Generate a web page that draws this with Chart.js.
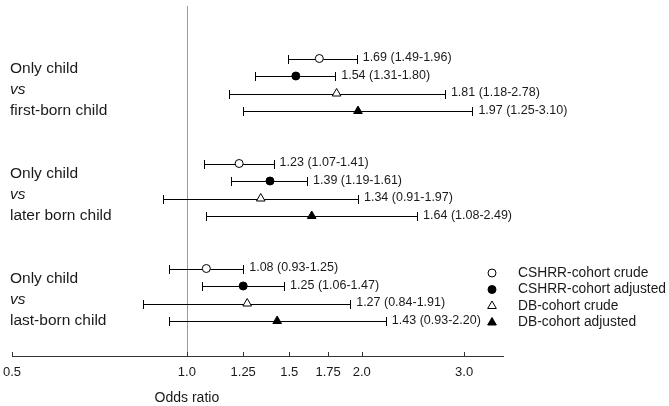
<!DOCTYPE html>
<html>
<head>
<meta charset="utf-8">
<script src="https://cdn.jsdelivr.net/npm/chart.js@4"></script>
<style>
  html, body { margin: 0; padding: 0; background: #fff; }
  canvas { display: block; }
</style>
</head>
<body>
<canvas id="chart" width="669" height="406"></canvas>
<script>
const groupLabels = [
    ["Only child", "vs", "first-born child"],
    ["Only child", "vs", "later born child"],
    ["Only child", "vs", "last-born child"]
];

const seriesNames = ["CSHRR-cohort crude", "CSHRR-cohort adjusted", "DB-cohort crude", "DB-cohort adjusted"];

// odds ratio with 95% CI, one value per comparison group
const cshrrCrude = [1.69, 1.23, 1.08];
const cshrrCrudeLow = [1.49, 1.07, 0.93];
const cshrrCrudeHigh = [1.96, 1.41, 1.25];

const cshrrAdj = [1.54, 1.39, 1.25];
const cshrrAdjLow = [1.31, 1.19, 1.06];
const cshrrAdjHigh = [1.80, 1.61, 1.47];

const dbCrude = [1.81, 1.34, 1.27];
const dbCrudeLow = [1.18, 0.91, 0.84];
const dbCrudeHigh = [2.78, 1.97, 1.91];

const dbAdj = [1.97, 1.64, 1.43];
const dbAdjLow = [1.25, 1.08, 0.93];
const dbAdjHigh = [3.10, 2.49, 2.20];

const tickValues = [0.5, 1.0, 1.25, 1.5, 1.75, 2.0, 3.0];
const tickLabels = ["0.5", "1.0", "1.25", "1.5", "1.75", "2.0", "3.0"];

const FONT = "'Liberation Sans', Arial, sans-serif";
const INK = "#1a1a1a";

const series = [
    { values: cshrrCrude, low: cshrrCrudeLow, high: cshrrCrudeHigh, shape: "circle", filled: false },
    { values: cshrrAdj, low: cshrrAdjLow, high: cshrrAdjHigh, shape: "circle", filled: true },
    { values: dbCrude, low: dbCrudeLow, high: dbCrudeHigh, shape: "triangle", filled: false },
    { values: dbAdj, low: dbAdjLow, high: dbAdjHigh, shape: "triangle", filled: true }
];

// each group takes 4 rows plus a gap of 2
const rowOf = (g, s) => g * 6 + s;

const datasets = series.map((s, si) => ({
    label: seriesNames[si],
    data: s.values.map((v, g) => ({ x: v, y: rowOf(g, si), lo: s.low[g], hi: s.high[g] })),
    pointStyle: s.shape,
    pointRadius: s.shape === "circle" ? 4 : 5,
    pointBorderWidth: 1,
    pointBorderColor: "#000",
    pointBackgroundColor: s.filled ? "#000" : "#fff",
    showLine: false
}));

function drawMarker(ctx, shape, filled, x, y) {
    ctx.beginPath();
    if (shape === "circle") {
        ctx.arc(x, y, 4, 0, Math.PI * 2);
    } else {
        ctx.moveTo(x, y - 5);
        ctx.lineTo(x + 4.33, y + 2.5);
        ctx.lineTo(x - 4.33, y + 2.5);
        ctx.closePath();
    }
    ctx.fillStyle = filled ? "#000" : "#fff";
    ctx.fill();
    ctx.lineWidth = 1;
    ctx.strokeStyle = "#000";
    ctx.stroke();
}

const forestPlugin = {
    id: "forest",
    beforeDatasetsDraw(chart) {
        const { ctx, chartArea, scales: { x, y } } = chart;
        ctx.save();

        // reference line at OR = 1
        const x1 = Math.round(x.getPixelForValue(1)) + 0.5;
        ctx.strokeStyle = "#9a9a9a";
        ctx.lineWidth = 1;
        ctx.beginPath();
        ctx.moveTo(x1, chartArea.top);
        ctx.lineTo(x1, chartArea.bottom);
        ctx.stroke();

        // confidence intervals
        ctx.strokeStyle = "#000";
        chart.data.datasets.forEach(ds => {
            ds.data.forEach(p => {
                const py = Math.round(y.getPixelForValue(p.y)) + 0.5;
                const a = Math.round(x.getPixelForValue(p.lo)) + 0.5;
                const b = Math.round(x.getPixelForValue(p.hi)) + 0.5;
                ctx.beginPath();
                ctx.moveTo(a, py);
                ctx.lineTo(b, py);
                ctx.moveTo(a, py - 4.5);
                ctx.lineTo(a, py + 4.5);
                ctx.moveTo(b, py - 4.5);
                ctx.lineTo(b, py + 4.5);
                ctx.stroke();
            });
        });

        // tick marks pointing up from the axis
        ctx.strokeStyle = "#333";
        x.ticks.forEach(t => {
            const px = Math.round(x.getPixelForValue(t.value)) + 0.5;
            ctx.beginPath();
            ctx.moveTo(px, chartArea.bottom);
            ctx.lineTo(px, chartArea.bottom - 4);
            ctx.stroke();
        });
        ctx.restore();
    },
    afterDraw(chart) {
        const { ctx, scales: { x, y } } = chart;
        ctx.save();

        // value labels right of each interval
        ctx.fillStyle = INK;
        ctx.font = "12.5px " + FONT;
        ctx.textBaseline = "middle";
        ctx.textAlign = "left";
        chart.data.datasets.forEach(ds => {
            ds.data.forEach(p => {
                const txt = p.x.toFixed(2) + " (" + p.lo.toFixed(2) + "-" + p.hi.toFixed(2) + ")";
                ctx.fillText(txt, x.getPixelForValue(p.hi) + 6, y.getPixelForValue(p.y) - 0.5);
            });
        });

        // group labels
        ctx.textBaseline = "alphabetic";
        groupLabels.forEach((lines, g) => {
            const yc = y.getPixelForValue(g * 6 + 1.5);
            ctx.font = "15.5px " + FONT;
            ctx.fillText(lines[0], 10, yc - 12);
            ctx.font = "italic 15.5px " + FONT;
            ctx.fillText(lines[1], 10, yc + 9);
            ctx.font = "15.5px " + FONT;
            ctx.fillText(lines[2], 10, yc + 30);
        });

        // axis title, centred under OR = 1
        ctx.font = "14px " + FONT;
        ctx.textAlign = "center";
        ctx.textBaseline = "middle";
        ctx.fillText("Odds ratio", x.getPixelForValue(1), 398);

        // legend
        ctx.textAlign = "left";
        series.forEach((s, i) => {
            const ly = 273 + i * 16.5;
            drawMarker(ctx, s.shape, s.filled, 492, ly);
            ctx.fillStyle = INK;
            ctx.font = "13.8px " + FONT;
            ctx.fillText(seriesNames[i], 518, ly);
        });
        ctx.restore();
    }
};

const chart = new Chart(document.getElementById("chart"), {
    type: "scatter",
    data: { datasets },
    plugins: [forestPlugin],
    options: {
        responsive: false,
        animation: false,
        events: [],
        layout: { padding: { left: 12, right: 166, top: 3, bottom: 0 } },
        plugins: {
            legend: { display: false },
            tooltip: { enabled: false }
        },
        scales: {
            x: {
                type: "logarithmic",
                min: 0.5,
                max: 3.5,
                afterBuildTicks: axis => {
                    axis.ticks = tickValues.map(v => ({ value: v }));
                },
                afterFit: axis => {
                    axis.height = 50;
                    axis.paddingLeft = 0;
                    axis.paddingRight = 0;
                },
                grid: { display: false, drawTicks: false },
                border: { display: true, color: "#333", width: 1 },
                ticks: {
                    autoSkip: false,
                    maxRotation: 0,
                    padding: 9,
                    color: INK,
                    font: { family: FONT, size: 13 },
                    callback: (v, i) => tickLabels[i]
                }
            },
            y: {
                type: "linear",
                min: -3,
                max: 17,
                reverse: true,
                display: false
            }
        }
    }
});
</script>
</body>
</html>
